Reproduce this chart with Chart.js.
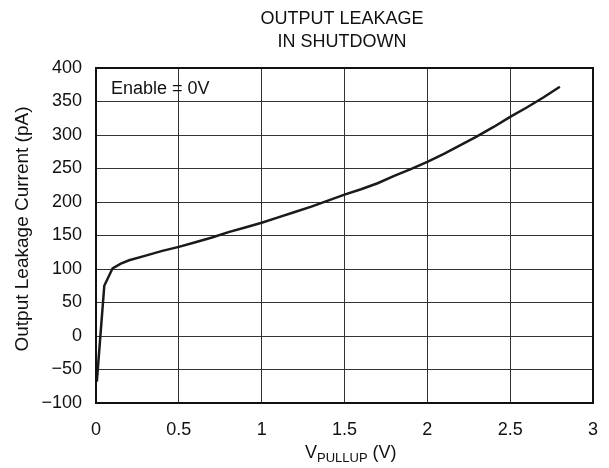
<!DOCTYPE html>
<html>
<head>
<meta charset="utf-8">
<script src="https://cdn.jsdelivr.net/npm/chart.js@4"></script>
<style>
  html, body { margin: 0; padding: 0; background: #fff; }
  #wrap { width: 609px; height: 468px; }
</style>
</head>
<body>
<div id="wrap"><canvas id="leakChart" width="609" height="468"></canvas></div>
<script>
var vPullup = [0.005, 0.05, 0.1, 0.15, 0.2, 0.3, 0.4, 0.5, 0.6, 0.7, 0.8, 0.9, 1.0, 1.1, 1.2, 1.3, 1.4, 1.5, 1.6, 1.7, 1.8, 1.9, 2.0, 2.1, 2.2, 2.3, 2.4, 2.5, 2.6, 2.7, 2.8];
var leakage = [-68, 75, 101, 108, 113, 120, 127, 133, 140, 147, 155, 162, 169, 177, 185, 193, 202, 211, 219, 228, 239, 249, 260, 272, 285, 298, 312, 327, 341, 356, 372];
var xTicks = [0, 0.5, 1, 1.5, 2, 2.5, 3];
var yTicks = [-100, -50, 0, 50, 100, 150, 200, 250, 300, 350, 400];

var FONT = 'Liberation Sans, Arial, sans-serif';

var points = vPullup.map(function (v, i) { return { x: v, y: leakage[i] }; });

// titles, annotation and the subscripted x label drawn by hand
var textPlugin = {
    id: 'texts',
    afterDraw: function (chart) {
        var c = chart.ctx;
        c.save();
        c.fillStyle = '#111';
        c.font = '18px ' + FONT;
        c.textAlign = 'center';
        c.textBaseline = 'middle';
        c.fillText('OUTPUT LEAKAGE', 342, 19);
        c.fillText('IN SHUTDOWN', 342, 42);

        // annotation
        c.textAlign = 'left';
        c.fillText('Enable = 0V', 111, 89);

        // x axis title with subscript
        var main = 'V', sub = 'PULLUP', tail = ' (V)';
        var w1 = c.measureText(main).width;
        c.font = '13px ' + FONT;
        var w2 = c.measureText(sub).width;
        var x0 = 305;
        var yb = 453;
        c.font = '18px ' + FONT;
        c.fillText(main, x0, yb);
        c.font = '13px ' + FONT;
        c.fillText(sub, x0 + w1, yb + 5);
        c.font = '18px ' + FONT;
        c.fillText(tail, x0 + w1 + w2, yb);

        // y axis title
        c.translate(23, 229);
        c.rotate(-Math.PI / 2);
        c.textAlign = 'center';
        c.font = '19px ' + FONT;
        c.fillText('Output Leakage Current (pA)', 0, 0);
        c.restore();
    }
};

var ctx = document.getElementById('leakChart').getContext('2d');
var leakChart = new Chart(ctx, {
    type: 'scatter',
    data: {
        datasets: [{
            data: points,
            showLine: true,
            borderColor: '#1a1a1a',
            borderWidth: 2.5,
            pointRadius: 0,
            tension: 0
        }]
    },
    options: {
        responsive: false,
        animation: false,
        layout: { padding: { left: 0, right: 16, top: 68, bottom: 0 } },
        plugins: {
            legend: { display: false },
            tooltip: { enabled: false }
        },
        scales: {
            x: {
                type: 'linear',
                min: 0,
                max: 3,
                afterBuildTicks: function (scale) {
                    scale.ticks = xTicks.map(function (v) { return { value: v }; });
                },
                afterFit: function (scale) {
                    scale.height = 65;
                    // tick padding should not eat into the plot width
                    scale.paddingLeft = 0;
                    scale.paddingRight = 0;
                },
                grid: { color: '#333', lineWidth: 1, drawTicks: false },
                border: { color: '#111', width: 2 },
                ticks: {
                    color: '#111',
                    padding: 16,
                    maxRotation: 0,
                    font: { size: 18, family: FONT },
                    callback: function (v) { return String(v); }
                }
            },
            y: {
                type: 'linear',
                min: -100,
                max: 400,
                afterBuildTicks: function (scale) {
                    scale.ticks = yTicks.map(function (v) { return { value: v }; });
                },
                afterFit: function (scale) { scale.width = 96; },
                grid: { color: '#333', lineWidth: 1, drawTicks: false },
                border: { color: '#111', width: 2 },
                ticks: {
                    color: '#111',
                    padding: 14,
                    font: { size: 18, family: FONT },
                    callback: function (v) { return v < 0 ? '\u2212' + Math.abs(v) : String(v); }
                }
            }
        }
    },
    plugins: [textPlugin, {
        // frame on the top and right edges
        id: 'frame',
        afterDatasetsDraw: function (chart) {
            var c = chart.ctx, a = chart.chartArea;
            c.save();
            c.strokeStyle = '#111';
            c.lineWidth = 2;
            c.strokeRect(a.left, a.top, a.right - a.left, a.bottom - a.top);
            c.restore();
        }
    }]
});
</script>
</body>
</html>
